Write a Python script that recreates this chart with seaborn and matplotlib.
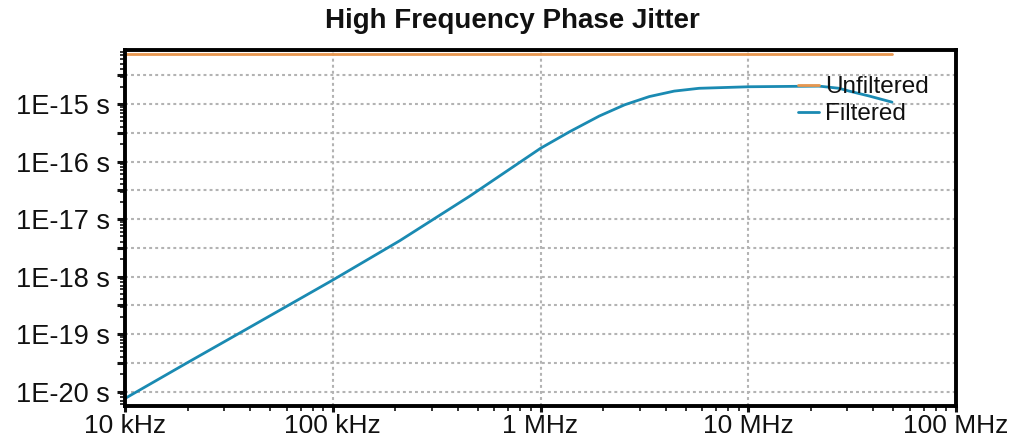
import numpy as np
import pandas as pd
import matplotlib
matplotlib.use("Agg")
import matplotlib.pyplot as plt
import matplotlib.ticker as mticker
import seaborn as sns

# ---- data ----
filtered_freq = [1.0e4, 2.0e4, 3.86e4, 1.0e5, 2.1e5, 4.56e5, 1.0e6, 1.38e6, 1.92e6,
                 2.54e6, 3.34e6, 4.4e6, 5.8e6, 1.01e7, 2.19e7, 2.74e7, 3.06e7, 3.82e7, 4.92e7]
filtered_jit = [7.6e-21, 3.2e-20, 1.23e-19, 8.7e-19, 4.2e-18, 2.5e-17, 1.7e-16, 3.3e-16, 6.2e-16,
                0.97e-15, 1.35e-15, 1.68e-15, 1.88e-15, 2.0e-15, 2.05e-15, 1.88e-15, 1.68e-15,
                1.38e-15, 1.08e-15]
unfiltered_freq = [1.0e4, 4.92e7]
unfiltered_jit = [7.4e-15, 7.4e-15]

x_tick_vals = [1e4, 1e5, 1e6, 1e7, 1e8]
x_tick_labels = ["10 kHz", "100 kHz", "1 MHz", "10 MHz", "100 MHz"]
y_tick_vals = [1e-20, 1e-19, 1e-18, 1e-17, 1e-16, 1e-15]
y_tick_labels = ["1E-20 s", "1E-19 s", "1E-18 s", "1E-17 s", "1E-16 s", "1E-15 s"]

df = pd.concat([
    pd.DataFrame({"freq": unfiltered_freq, "jitter": unfiltered_jit, "series": "Unfiltered"}),
    pd.DataFrame({"freq": filtered_freq, "jitter": filtered_jit, "series": "Filtered"}),
], ignore_index=True)

sns.set_theme(style="white")
plt.rcParams["font.family"] = ["Liberation Sans", "DejaVu Sans"]

W, H = 1013, 448
fig = plt.figure(figsize=(W / 100, H / 100), dpi=100)
ax = fig.add_axes([125 / W, 1 - 406 / H, (956 - 125) / W, (406 - 50) / H])

palette = {"Unfiltered": "#E8974F", "Filtered": "#1A8AB2"}
sns.lineplot(data=df, x="freq", y="jitter", hue="series", palette=palette,
             linewidth=2.0, ax=ax, legend=True, estimator=None, sort=False)

ax.set_xscale("log")
ax.set_yscale("log")
ax.set_xlim(1e4, 1e8)
ax.set_ylim(10 ** -20.25, 10 ** -14.06)

# major ticks: decades (labelled) + half decades (unlabelled) on y
half = [v * np.sqrt(10) for v in y_tick_vals]
ymajor = sorted(y_tick_vals + half)
ax.set_yticks(ymajor)
ax.set_yticklabels([y_tick_labels[y_tick_vals.index(v)] if v in y_tick_vals else "" for v in ymajor])
ax.yaxis.set_minor_locator(mticker.LogLocator(base=10, subs=np.arange(2, 10), numticks=100))
ax.yaxis.set_minor_formatter(mticker.NullFormatter())

ax.set_xticks(x_tick_vals)
ax.set_xticklabels(x_tick_labels)
ax.xaxis.set_minor_locator(mticker.LogLocator(base=10, subs=np.arange(2, 10), numticks=100))
ax.xaxis.set_minor_formatter(mticker.NullFormatter())

ax.tick_params(axis="both", which="major", direction="out", length=6, width=2.2,
               colors="#111111", left=True, bottom=True)
ax.tick_params(axis="y", which="major", pad=5, labelsize=19.5)
ax.tick_params(axis="x", which="major", pad=2, length=4, labelsize=19)
ax.tick_params(axis="both", which="minor", direction="out", length=3.5, width=1.2,
               colors="#111111", left=True, bottom=True)

ax.grid(True, which="major", axis="both", color="#b3b3b3", linestyle=(0, (1.4, 1.5)), linewidth=1.5)
ax.grid(False, which="minor")

for s in ax.spines.values():
    s.set_visible(True)
    s.set_color("#000000")
    s.set_linewidth(2.8)

ax.set_xlabel("")
ax.set_ylabel("")

handles, labels = ax.get_legend_handles_labels()
leg = ax.legend(handles, labels, loc="upper left", frameon=False,
                bbox_to_anchor=(798 / W, 1 - 76 / H), bbox_transform=fig.transFigure,
                borderpad=0, borderaxespad=0, handlelength=0.85, handletextpad=0.25,
                labelspacing=0.22, fontsize=17.5)
for t in leg.get_texts():
    t.set_color("#111111")

fig.text(512 / W, 1 - 21 / H, "High Frequency Phase Jitter", ha="center", va="center",
         fontsize=20, fontweight="bold", color="#111111")

fig.savefig("out.png", dpi=100)
